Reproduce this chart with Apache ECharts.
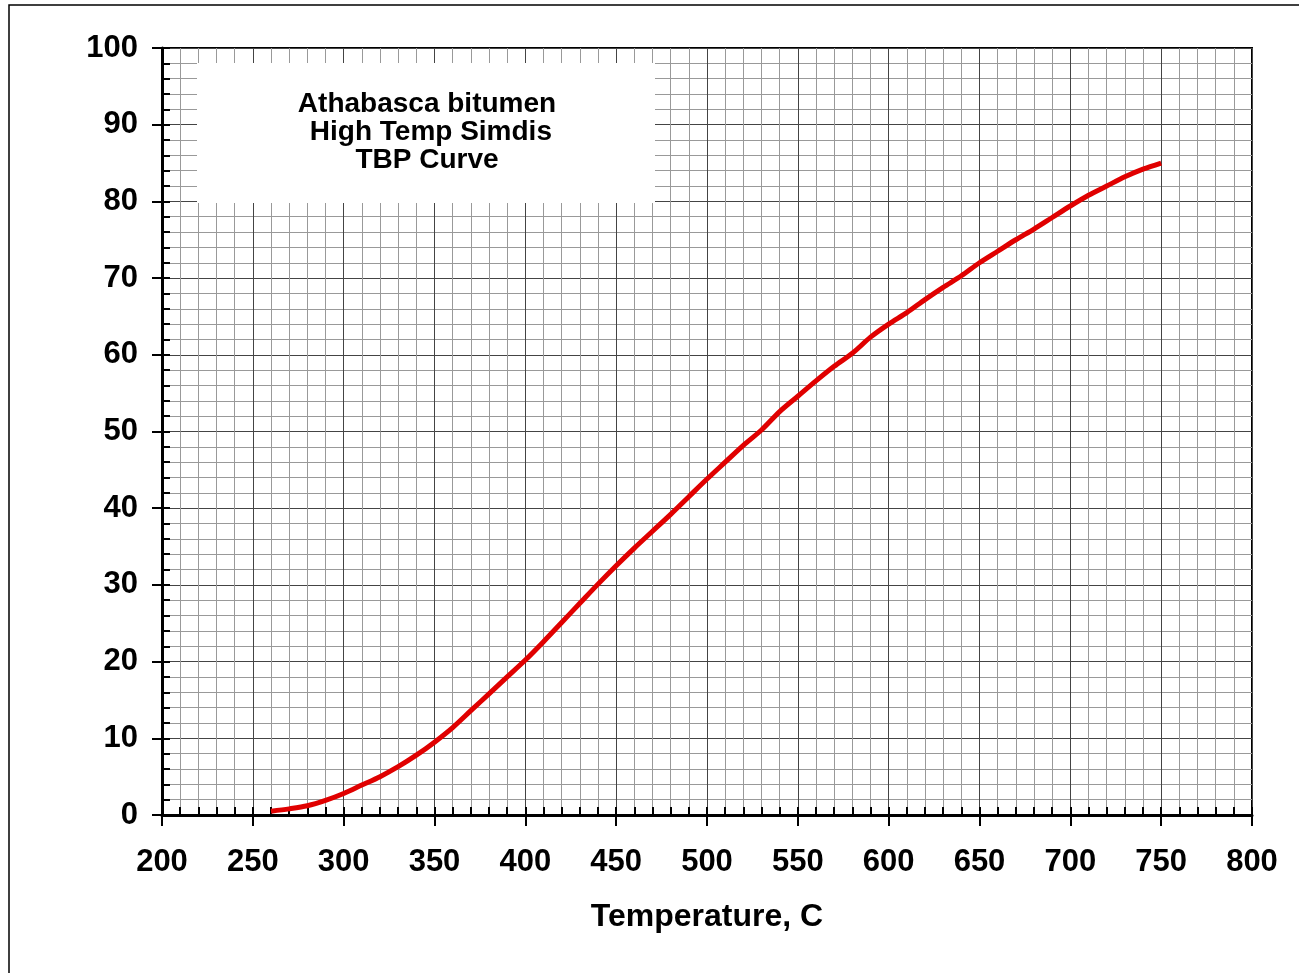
<!DOCTYPE html>
<html>
<head>
<meta charset="utf-8">
<script src="https://cdn.jsdelivr.net/npm/echarts@6/dist/echarts.min.js"></script>
<style>
html, body { margin: 0; padding: 0; background: #fff; }
#chart { width: 1299px; height: 973px; }
</style>
</head>
<body>
<div id="chart"></div>
<script>
// TBP curve
const temps = [260, 270, 280, 290, 300, 310, 320, 330, 340, 350,
               360, 370, 380, 390, 400, 410, 420, 430, 440, 450,
               460, 470, 480, 490, 500, 510, 520, 530, 540, 550,
               560, 570, 580, 590, 600, 610, 620, 630, 640, 650,
               660, 670, 680, 690, 700, 710, 720, 730, 740, 750];
const recovered = [0.5, 0.8, 1.2, 1.9, 2.8, 3.9, 5.0, 6.3, 7.8, 9.5,
                   11.4, 13.6, 15.8, 18.0, 20.2, 22.6, 25.1, 27.6, 30.1, 32.5,
                   34.8, 37.0, 39.2, 41.5, 43.8, 46.0, 48.2, 50.2, 52.6, 54.6,
                   56.6, 58.5, 60.2, 62.3, 64.0, 65.5, 67.2, 68.8, 70.3, 72.0,
                   73.5, 75.0, 76.4, 77.9, 79.4, 80.8, 82.0, 83.2, 84.2, 85.0];
const titleLines = ['Athabasca bitumen', ' High Temp Simdis', 'TBP Curve'];
const xName = 'Temperature, C';

const font = 'Liberation Sans, Arial, sans-serif';
const myChart = echarts.init(document.getElementById('chart'));

const option = {
    animation: false,
    backgroundColor: '#fff',
    grid: {
        left: 162, top: 48, width: 1090, height: 767,
        show: true, borderColor: '#000', borderWidth: 2, backgroundColor: 'transparent'
    },
    graphic: [
        { type: 'rect', z: -10, silent: true,
          shape: { x: 9, y: 5, width: 1400, height: 1100 },
          style: { fill: 'none', stroke: '#000', lineWidth: 1.5 } },
        { type: 'rect', z: 5, silent: true,
          shape: { x: 197, y: 63, width: 458, height: 140 },
          style: { fill: '#fff' } },
        { type: 'text', z: 6, silent: true, x: 427, y: 90,
          style: { text: titleLines.join('\n'), fill: '#000', font: 'bold 28px ' + font,
                   align: 'center', verticalAlign: 'top', lineHeight: 28 } }
    ],
    xAxis: [
        {
            type: 'value', min: 200, max: 800, interval: 50,
            name: xName, nameLocation: 'middle', nameGap: 86,
            nameTextStyle: { color: '#000', fontFamily: font, fontWeight: 'bold', fontSize: 32 },
            axisLine: { show: true, lineStyle: { color: '#000', width: 3 } },
            axisTick: { show: true, length: 11, lineStyle: { color: '#000', width: 2 } },
            axisLabel: { color: '#000', fontFamily: font, fontWeight: 'bold', fontSize: 31, margin: 32 },
            splitLine: { show: true, lineStyle: { color: '#444', width: 1 } },
            minorSplitLine: { show: true, lineStyle: { color: '#999', width: 1 } },
            minorTick: { show: false, splitNumber: 5 }
        },
        {
            type: 'value', min: 200, max: 800, interval: 10, position: 'bottom',
            axisLine: { show: false },
            axisTick: { show: true, inside: true, length: 8, lineStyle: { color: '#000', width: 2 } },
            axisLabel: { show: false },
            splitLine: { show: false }
        }
    ],
    yAxis: [
        {
            type: 'value', min: 0, max: 100, interval: 10,
            axisLine: { show: true, lineStyle: { color: '#000', width: 3 } },
            axisTick: { show: true, length: 10, lineStyle: { color: '#000', width: 2 } },
            axisLabel: { color: '#000', fontFamily: font, fontWeight: 'bold', fontSize: 31, margin: 24 },
            splitLine: { show: true, lineStyle: { color: '#444', width: 1 } },
            minorSplitLine: { show: true, lineStyle: { color: '#999', width: 1 } },
            minorTick: { show: false, splitNumber: 5 }
        },
        {
            type: 'value', min: 0, max: 100, interval: 2, position: 'left',
            axisLine: { show: false },
            axisTick: { show: true, inside: true, length: 8, lineStyle: { color: '#000', width: 2 } },
            axisLabel: { show: false },
            splitLine: { show: false }
        }
    ],
    series: [
        {
            name: 'TBP',
            type: 'line',
            xAxisIndex: 0,
            yAxisIndex: 0,
            data: temps.map((t, i) => [t, recovered[i]]),
            smooth: 0.3,
            symbol: 'none',
            z: 10,
            lineStyle: { color: '#e00000', width: 5 }
        }
    ]
};
myChart.setOption(option);
</script>
</body>
</html>
